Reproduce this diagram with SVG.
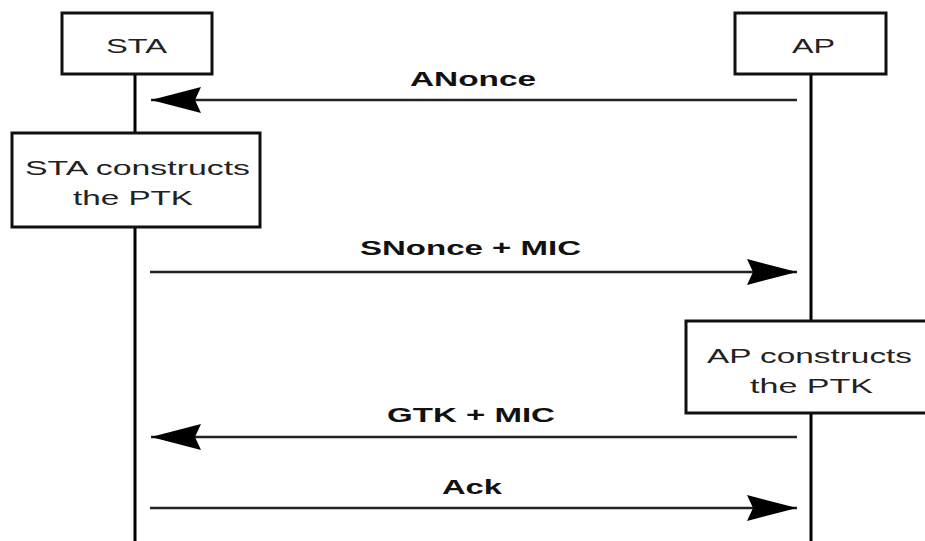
<svg xmlns="http://www.w3.org/2000/svg" width="925" height="541" viewBox="0 0 925 541">
<style>
.box{fill:#fff;stroke:#111;stroke-width:3}
.life{stroke:#000;stroke-width:3}
.msg{stroke:#222;stroke-width:2.5;fill:none}
.t{font-family:"Liberation Sans",Arial,sans-serif;font-size:21px;fill:#222;text-anchor:start}
.b{font-family:"Liberation Sans",Arial,sans-serif;font-size:21px;font-weight:bold;fill:#111;text-anchor:start}
</style>
<defs>
<marker id="ah" markerUnits="userSpaceOnUse" markerWidth="52" markerHeight="26" refX="50" refY="13" orient="auto">
<path d="M0,0 L50,13 L0,26 L6,13 z" fill="#000"/>
</marker>
</defs>
<rect width="925" height="541" fill="#fff"/>
<g id="lifelines">
<line class="life" x1="135" y1="74" x2="135" y2="133"/>
<line class="life" x1="135" y1="227" x2="135" y2="541"/>
<line class="life" x1="811" y1="74" x2="811" y2="321"/>
<line class="life" x1="811" y1="413" x2="811" y2="541"/>
</g>
<g id="sta">
<rect class="box" x="62" y="13" width="150" height="61"/>
<text class="t" x="106" y="53" textLength="61" lengthAdjust="spacingAndGlyphs">STA</text>
</g>
<g id="ap">
<rect class="box" x="735" y="13" width="151" height="61"/>
<text class="t" x="792" y="53" textLength="43" lengthAdjust="spacingAndGlyphs">AP</text>
</g>
<g id="sta-ptk">
<rect class="box" x="12" y="133" width="248" height="94"/>
<text class="t" x="25" y="175" textLength="225" lengthAdjust="spacingAndGlyphs">STA constructs</text>
<text class="t" x="73" y="205" textLength="120" lengthAdjust="spacingAndGlyphs">the PTK</text>
</g>
<g id="ap-ptk">
<rect class="box" x="686" y="321" width="250" height="92"/>
<text class="t" x="707" y="363" textLength="205" lengthAdjust="spacingAndGlyphs">AP constructs</text>
<text class="t" x="750" y="393" textLength="123" lengthAdjust="spacingAndGlyphs">the PTK</text>
</g>
<g id="connectors">
<line class="msg" x1="797" y1="100" x2="151" y2="100" marker-end="url(#ah)"/>
<text class="b" x="410" y="86" textLength="126" lengthAdjust="spacingAndGlyphs">ANonce</text>
<line class="msg" x1="150" y1="272" x2="797" y2="272" marker-end="url(#ah)"/>
<text class="b" x="360" y="255" textLength="221" lengthAdjust="spacingAndGlyphs">SNonce + MIC</text>
<line class="msg" x1="797" y1="437" x2="151" y2="437" marker-end="url(#ah)"/>
<text class="b" x="387" y="422" textLength="168" lengthAdjust="spacingAndGlyphs">GTK + MIC</text>
<line class="msg" x1="150" y1="508" x2="797" y2="508" marker-end="url(#ah)"/>
<text class="b" x="442" y="494" textLength="60" lengthAdjust="spacingAndGlyphs">Ack</text>
</g>
</svg>
